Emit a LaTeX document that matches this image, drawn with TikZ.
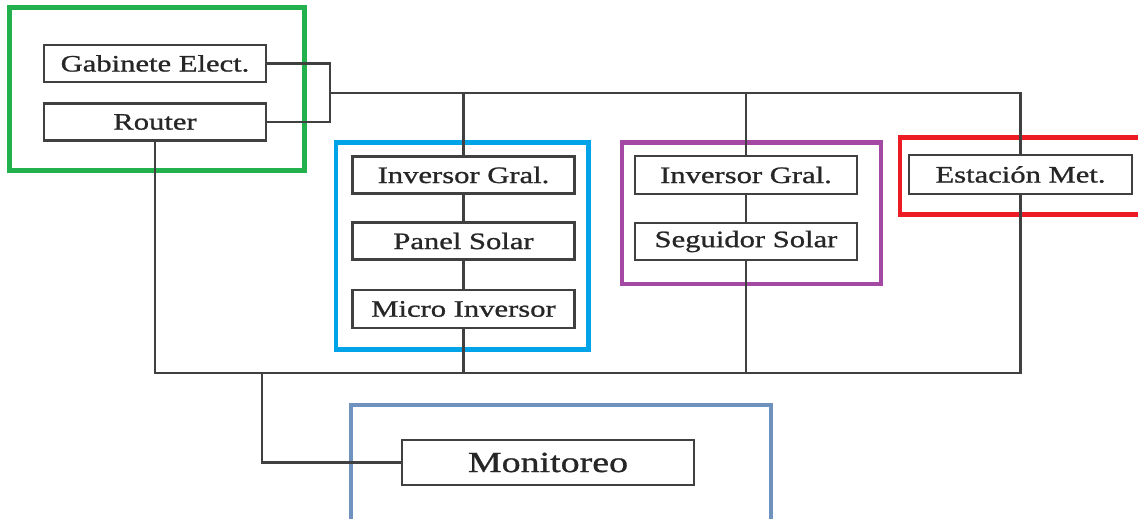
\documentclass[tikz,border=0pt]{standalone}
\usepackage{fontspec}
\setmainfont{Liberation Serif}[FakeStretch=1.3,FakeBold=1]
\usepackage{tikz}
\usepackage{color}
\definecolor{grframe}{RGB}{34,177,76}
\definecolor{blframe}{RGB}{0,162,232}
\definecolor{puframe}{RGB}{163,73,164}
\definecolor{reframe}{RGB}{237,28,36}
\definecolor{slframe}{RGB}{112,146,190}

\begin{document}
\begin{tikzpicture}[unit/.style={draw=black!75,line width=1.2pt,inner sep=0pt,minimum width=4.44cm,minimum height=0.74cm,font=\fontsize{13.4}{15}\selectfont,text=black!85},
  wire/.style={draw=black!75,line width=1.2pt},
  frame/.style={line width=2.8pt}]
  \useasboundingbox (0,0) rectangle (22.76,-10.38);

  \draw [frame,grframe] (0.19,-0.15) rectangle (6.09,-3.41);
  \draw [frame,blframe] (6.72,-2.85) rectangle (11.77,-6.99);
  \draw [frame,puframe] (12.44,-2.85) rectangle (17.62,-5.68);
  \draw [frame,reframe] (22.76,-2.75) -- (18.00,-2.75) -- (18.00,-4.29) -- (22.76,-4.29);
  \draw [frame,slframe] (7.02,-10.38) -- (7.02,-8.10) -- (15.42,-8.10) -- (15.42,-10.38);

  \node [unit] (gab) at (3.10,-1.27) {Gabinete Elect.};
  \node [unit] (router) at (3.10,-2.44) {Router};
  \node [unit] (inv1) at (9.27,-3.50) {Inversor Gral.};
  \node [unit] (panel) at (9.27,-4.82) {Panel Solar};
  \node [unit,minimum height=0.76cm] (micro) at (9.27,-6.18) {Micro Inversor};
  \node [unit,minimum height=0.76cm] (inv2) at (14.92,-3.50) {Inversor Gral.};
  \node [unit] (seg) at (14.92,-4.83) {Seguidor Solar};
  \node [unit,minimum width=4.46cm,minimum height=0.78cm] (est) at (20.41,-3.49) {Estación Met.};
  \node [unit,minimum width=5.84cm,minimum height=0.9cm,font=\fontsize{16.6}{19}\selectfont] (mon) at (10.96,-9.25) {Monitoreo};

  \coordinate (j) at (6.60,-1.86);
  \coordinate (b) at (5.24,-7.46);

  \draw [wire] (gab.east) -| (j) |- (router.east);
  \draw [wire] (j) -| (est.north);
  \draw [wire] (inv1.north) -- (inv1.north |- j);
  \draw [wire] (inv2.north) -- (inv2.north |- j);
  \draw [wire] (inv1) -- (panel);
  \draw [wire] (panel) -- (micro);
  \draw [wire] (inv2) -- (seg);
  \draw [wire] (router.south) |- (b) -| (est.south);
  \draw [wire] (micro.south) -- (micro.south |- b);
  \draw [wire] (seg.south) -- (seg.south |- b);
  \draw [wire] (b) |- (mon.west);
\end{tikzpicture}
\end{document}
